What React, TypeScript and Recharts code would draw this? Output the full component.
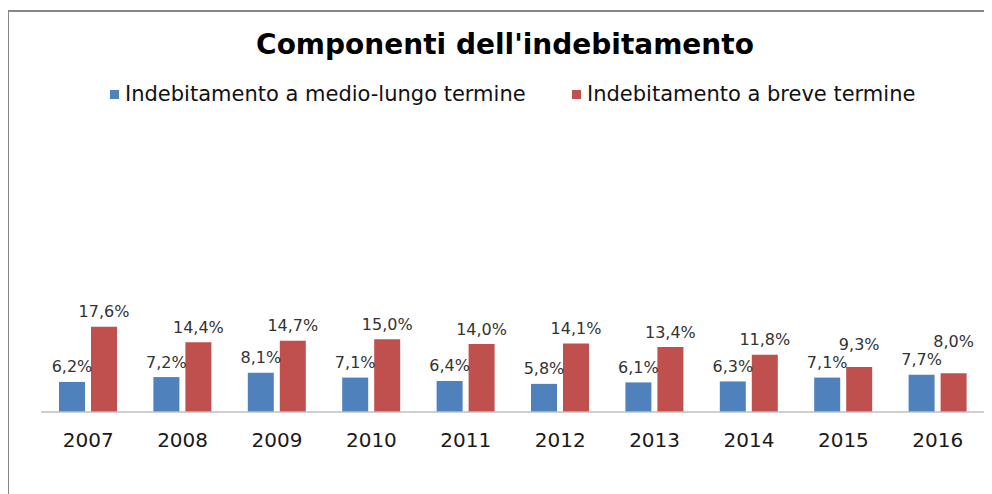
import React from "react";
import { BarChart, Bar, XAxis, YAxis, LabelList } from "recharts";

const years = ["2007", "2008", "2009", "2010", "2011", "2012", "2013", "2014", "2015", "2016"];
const medioLungo = [6.2, 7.2, 8.1, 7.1, 6.4, 5.8, 6.1, 6.3, 7.1, 7.7];
const breve = [17.6, 14.4, 14.7, 15.0, 14.0, 14.1, 13.4, 11.8, 9.3, 8.0];
const seriesNames = ["Indebitamento a medio-lungo termine", "Indebitamento a breve termine"];
const title = "Componenti dell'indebitamento";

const data = years.map((y, i) => ({ year: y, ml: medioLungo[i], br: breve[i] }));

const BLUE = "#4F81BD";
const RED = "#C0504D";
const FONT = "'DejaVu Sans', Verdana, sans-serif";
const LABEL_SIZE = 16;

const fmt = (v: any) => String(Number(v).toFixed(1)).replace(".", ",") + "%";

const BlueLabel = (props: any) => {
  const { x, y, width, value } = props;
  return (
    <text x={x + width / 2} y={y - 15} textAnchor="middle" dominantBaseline="central"
      style={{ fontFamily: FONT, fontSize: LABEL_SIZE, fill: "#333" }}>
      {fmt(value)}
    </text>
  );
};

const RedLabel = (props: any) => {
  const { x, y, width, height, value, index } = props;
  const base = y + height;
  const blueTop = base - (medioLungo[index] / breve[index]) * height;
  const blueLabelY = blueTop - 15;
  const cy = Math.min(y - 15, blueLabelY - 18);
  return (
    <text x={x + width / 2} y={cy} textAnchor="middle" dominantBaseline="central"
      style={{ fontFamily: FONT, fontSize: LABEL_SIZE, fill: "#333" }}>
      {fmt(value)}
    </text>
  );
};

export default function App() {
  return (
    <div style={{ position: "relative", width: 984, height: 486, overflow: "hidden", background: "#fff" }}>
      <div
        style={{
          position: "absolute",
          left: -1,
          top: 2,
          width: 2000,
          height: 1000,
          borderLeft: "2px solid #878787",
          borderTop: "2px solid #878787",
        }}
      />
      <div
        style={{
          position: "absolute",
          left: 0,
          top: 20,
          width: 994,
          textAlign: "center",
          fontFamily: FONT,
          fontWeight: "bold",
          fontSize: 28,
          color: "#000",
        }}
      >
        {title}
      </div>
      {[BLUE, RED].map((c, i) => (
        <div
          key={i}
          style={{
            position: "absolute",
            left: i === 0 ? 102 : 564,
            top: 74,
            display: "flex",
            alignItems: "center",
            fontFamily: FONT,
            fontSize: 21,
            color: "#111",
            whiteSpace: "nowrap",
          }}
        >
          <span style={{ display: "inline-block", width: 9, height: 9, background: c, marginRight: 6 }} />
          <span>{seriesNames[i]}</span>
        </div>
      ))}
      <div style={{ position: "absolute", left: 0, top: 0 }}>
        <BarChart
          width={984}
          height={486}
          data={data}
          margin={{ top: 113, right: 7, bottom: 42, left: 33 }}
          barSize={26}
          barGap={6}
        >
          <XAxis
            dataKey="year"
            height={40}
            tickLine={false}
            tickSize={0}
            tickMargin={21}
            axisLine={{ stroke: "#BFBFBF", strokeWidth: 1.5 }}
            tick={{ fontFamily: FONT, fontSize: 20, fill: "#1a1a1a" }}
          />
          <YAxis hide domain={[0, 60]} />
          <Bar dataKey="ml" name={seriesNames[0]} fill={BLUE} isAnimationActive={false}>
            <LabelList dataKey="ml" content={<BlueLabel />} />
          </Bar>
          <Bar dataKey="br" name={seriesNames[1]} fill={RED} isAnimationActive={false}>
            <LabelList dataKey="br" content={<RedLabel />} />
          </Bar>
        </BarChart>
      </div>
    </div>
  );
}
